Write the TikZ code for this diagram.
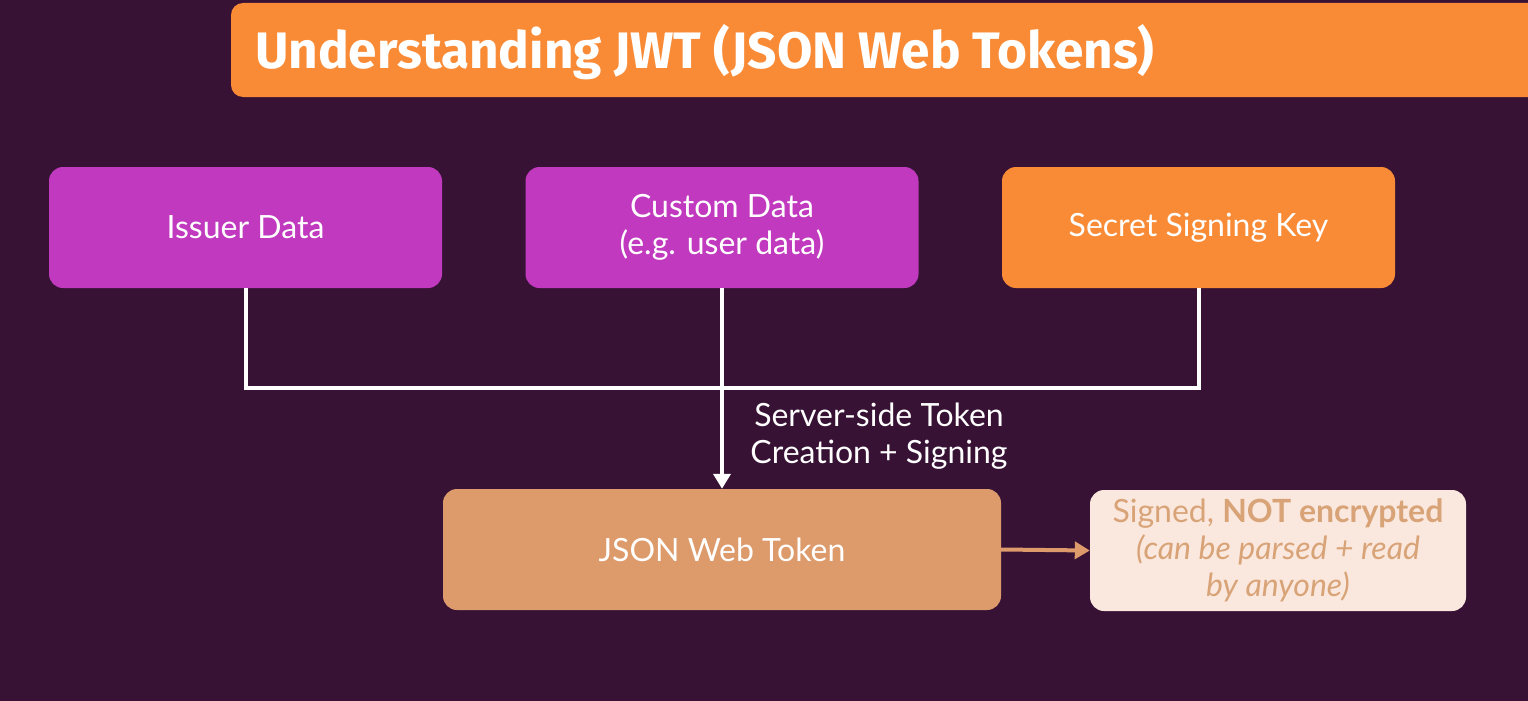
\documentclass[tikz,border=0pt]{standalone}
\usepackage{fontspec}
\setmainfont{Lato}
\newfontfamily\titlefont{Fira Sans}
\usetikzlibrary{arrows.meta}
\definecolor{bgpurple}{HTML}{371235}
\definecolor{titleorange}{HTML}{F98B36}
\definecolor{magentabox}{HTML}{C039BE}
\definecolor{jwtbox}{HTML}{DD9A6A}
\definecolor{notebox}{HTML}{FAE8DE}
\definecolor{notetext}{HTML}{D9A378}
\tikzset{
  box/.style={rounded corners=14pt, minimum width=393pt, minimum height=121pt, align=center, text=white, font=\fontsize{32}{37}\selectfont, inner sep=0pt},
  wire/.style={draw=white, line width=4pt},
}
\begin{document}
\begin{tikzpicture}[x=1pt,y=-1pt]
\useasboundingbox (0,0) rectangle (1528,701);
\fill[bgpurple] (0,0) rectangle (1528,701);
% title bar
\fill[titleorange, rounded corners=12pt] (231,3) rectangle (1560,97);
\node[anchor=base west, text=white, font=\titlefont\bfseries\fontsize{51.3}{56}\selectfont, inner sep=0pt] (title) at (255,69) {Understanding JWT (JSON Web Tokens)};
% boxes
\node[box, fill=magentabox] (issuer) at (245.5,227.5) {Issuer Data};
\node[box, fill=magentabox] (custom) at (722,227.5) {Custom Data\\(e.g. user data)};
\node[box, fill=titleorange] (secret) at (1198.5,227.5) {Secret Signing Key};
\node[box, fill=jwtbox, minimum width=558pt] (jwt) at (722,549.5) {JSON Web Token};
\node[box, fill=notebox, minimum width=376pt, text=notetext, font=\fontsize{32}{37}\selectfont] (note) at (1278,550.5) {Signed, \textbf{NOT encrypted}\\\textit{(can be parsed + read}\\\textit{by anyone)}};
% connectors
\coordinate (jl) at (245.5,388);
\coordinate (jr) at (1198.5,388);
\draw[wire, line join=miter] (issuer.south) -- (jl) -- (jr) -- (secret.south);
\draw[wire, -{Triangle[length=15pt,width=17pt]}] (custom.south) -- (jwt.north);
\node[text=white, font=\fontsize{32}{37}\selectfont, align=center, inner sep=0pt] (lbl) at (879,436) {Server-side Token\\Creation + Signing};
\draw[draw=jwtbox, line width=4pt, -{Triangle[length=15pt,width=17pt]}] (jwt.east) -- (note.west);
\end{tikzpicture}
\end{document}
